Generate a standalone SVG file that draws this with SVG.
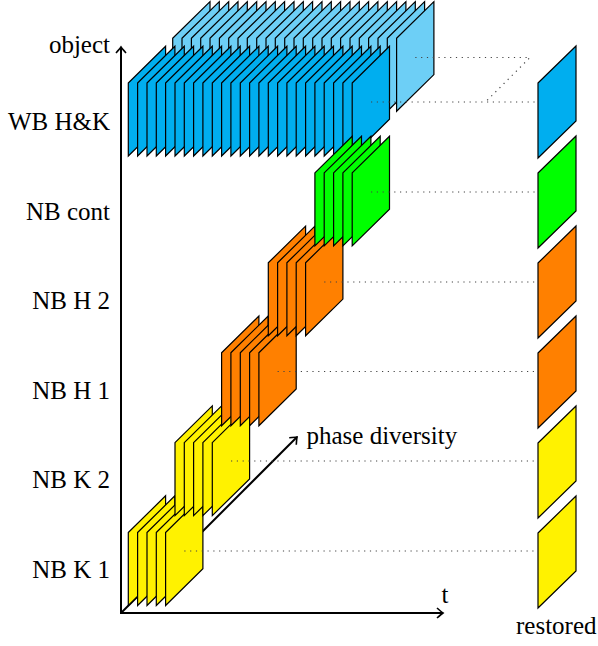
<svg xmlns="http://www.w3.org/2000/svg" xmlns:xlink="http://www.w3.org/1999/xlink" width="598" height="646" viewBox="0 0 598 646">
<style>
.pn{stroke:#000;stroke-width:1.2;stroke-linejoin:miter}
.lb{fill:#6DCFF6}.b{fill:#00AEEF}.g{fill:#00FF00}.o{fill:#FF8000}.y{fill:#FFF200}
text{font-family:'Liberation Serif','DejaVu Serif',serif;font-size:25px;fill:#000}
.ax{stroke:#000;stroke-width:2;fill:none}
.dot{stroke:#444;stroke-width:1.2;fill:none;stroke-dasharray:1.2 4.6}
</style>
<defs>
<path id="p" d="M0,0 L37.3,-36.7 V36.3 L0,73 Z"/>
<path id="r" d="M0,0 L38,-37 V38 L0,75 Z"/>
<marker id="ah" viewBox="-8 -6 10 12" refX="0" refY="0" markerWidth="10" markerHeight="12" markerUnits="userSpaceOnUse" orient="auto" overflow="visible">
<path d="M-6,-5 Q-1.5,-1 0,0 Q-1.5,1 -6,5" stroke="#000" stroke-width="1.6" fill="none"/>
</marker>
</defs>

<g id="axes">
<line class="ax" x1="121" y1="613" x2="297" y2="437" marker-end="url(#ah)"/>
</g>

<g id="wb-hk-diversity" class="pn lb">
<use href="#p" x="172.7" y="38.3"/><use href="#p" x="182.0" y="38.3"/><use href="#p" x="191.4" y="38.3"/><use href="#p" x="200.7" y="38.3"/><use href="#p" x="210.0" y="38.3"/>
<use href="#p" x="219.4" y="38.3"/><use href="#p" x="228.7" y="38.3"/><use href="#p" x="238.0" y="38.3"/><use href="#p" x="247.3" y="38.3"/><use href="#p" x="256.7" y="38.3"/>
<use href="#p" x="266.0" y="38.3"/><use href="#p" x="275.3" y="38.3"/><use href="#p" x="284.7" y="38.3"/><use href="#p" x="294.0" y="38.3"/><use href="#p" x="303.3" y="38.3"/>
<use href="#p" x="312.7" y="38.3"/><use href="#p" x="322.0" y="38.3"/><use href="#p" x="331.3" y="38.3"/><use href="#p" x="340.6" y="38.3"/><use href="#p" x="350.0" y="38.3"/>
<use href="#p" x="359.3" y="38.3"/><use href="#p" x="368.6" y="38.3"/><use href="#p" x="378.0" y="38.3"/><use href="#p" x="387.3" y="38.3"/><use href="#p" x="396.6" y="38.3"/>
</g>

<g id="wb-hk" class="pn b">
<use href="#p" x="128.3" y="83"/><use href="#p" x="137.6" y="83"/><use href="#p" x="147.0" y="83"/><use href="#p" x="156.3" y="83"/><use href="#p" x="165.6" y="83"/>
<use href="#p" x="175.0" y="83"/><use href="#p" x="184.3" y="83"/><use href="#p" x="193.6" y="83"/><use href="#p" x="202.9" y="83"/><use href="#p" x="212.3" y="83"/>
<use href="#p" x="221.6" y="83"/><use href="#p" x="230.9" y="83"/><use href="#p" x="240.3" y="83"/><use href="#p" x="249.6" y="83"/><use href="#p" x="258.9" y="83"/>
<use href="#p" x="268.3" y="83"/><use href="#p" x="277.6" y="83"/><use href="#p" x="286.9" y="83"/><use href="#p" x="296.2" y="83"/><use href="#p" x="305.6" y="83"/>
<use href="#p" x="314.9" y="83"/><use href="#p" x="324.2" y="83"/><use href="#p" x="333.6" y="83"/><use href="#p" x="342.9" y="83"/><use href="#p" x="352.2" y="83"/>
</g>

<g id="nb-k1" class="pn y">
<use href="#p" x="128.3" y="532.5"/><use href="#p" x="137.6" y="532.5"/><use href="#p" x="147.0" y="532.5"/><use href="#p" x="156.3" y="532.5"/><use href="#p" x="165.6" y="532.5"/>
</g>
<g id="nb-k2" class="pn y">
<use href="#p" x="175.0" y="442.6"/><use href="#p" x="184.3" y="442.6"/><use href="#p" x="193.6" y="442.6"/><use href="#p" x="202.9" y="442.6"/><use href="#p" x="212.3" y="442.6"/>
</g>
<g id="nb-h1" class="pn o">
<use href="#p" x="221.6" y="352.7"/><use href="#p" x="230.9" y="352.7"/><use href="#p" x="240.3" y="352.7"/><use href="#p" x="249.6" y="352.7"/><use href="#p" x="258.9" y="352.7"/>
</g>
<g id="nb-h2" class="pn o">
<use href="#p" x="268.3" y="262.8"/><use href="#p" x="277.6" y="262.8"/><use href="#p" x="286.9" y="262.8"/><use href="#p" x="296.2" y="262.8"/><use href="#p" x="305.6" y="262.8"/>
</g>
<g id="nb-cont" class="pn g">
<use href="#p" x="314.9" y="172.9"/><use href="#p" x="324.2" y="172.9"/><use href="#p" x="333.6" y="172.9"/><use href="#p" x="342.9" y="172.9"/><use href="#p" x="352.2" y="172.9"/>
</g>

<g id="connectors">
<polyline class="dot" points="415.3,57.5 530,57.5 485.5,102"/>
<line class="dot" x1="371" y1="102" x2="538" y2="102"/>
<line class="dot" x1="371" y1="192" x2="538" y2="192"/>
<line class="dot" x1="324.2" y1="282" x2="538" y2="282"/>
<line class="dot" x1="277.6" y1="371.5" x2="538" y2="371.5"/>
<line class="dot" x1="231" y1="461" x2="538" y2="461"/>
<line class="dot" x1="184.3" y1="551" x2="538" y2="551"/>
<line class="ax" x1="121" y1="613" x2="121" y2="47" marker-end="url(#ah)"/>
<line class="ax" x1="120" y1="613" x2="443" y2="613" marker-end="url(#ah)"/>
</g>

<g id="restored">
<g id="r-wb" class="pn b"><use href="#r" x="538" y="83"/></g>
<g id="r-cont" class="pn g"><use href="#r" x="538" y="173"/></g>
<g id="r-h2" class="pn o"><use href="#r" x="538" y="263"/></g>
<g id="r-h1" class="pn o"><use href="#r" x="538" y="353"/></g>
<g id="r-k2" class="pn y"><use href="#r" x="538" y="443"/></g>
<g id="r-k1" class="pn y"><use href="#r" x="538" y="533"/></g>
</g>

<g id="labels" font-family="Liberation Serif, serif" font-size="25">
<text x="110" y="52.5" text-anchor="end">object</text>
<text x="110" y="130" text-anchor="end">WB H&amp;K</text>
<text x="110" y="219.5" text-anchor="end">NB cont</text>
<text x="110" y="308.5" text-anchor="end">NB H 2</text>
<text x="110" y="398.5" text-anchor="end">NB H 1</text>
<text x="110" y="488" text-anchor="end">NB K 2</text>
<text x="110" y="578" text-anchor="end">NB K 1</text>
<text x="306.5" y="443.5">phase diversity</text>
<text x="441.5" y="603">t</text>
<text x="516" y="634">restored</text>
</g>
</svg>
